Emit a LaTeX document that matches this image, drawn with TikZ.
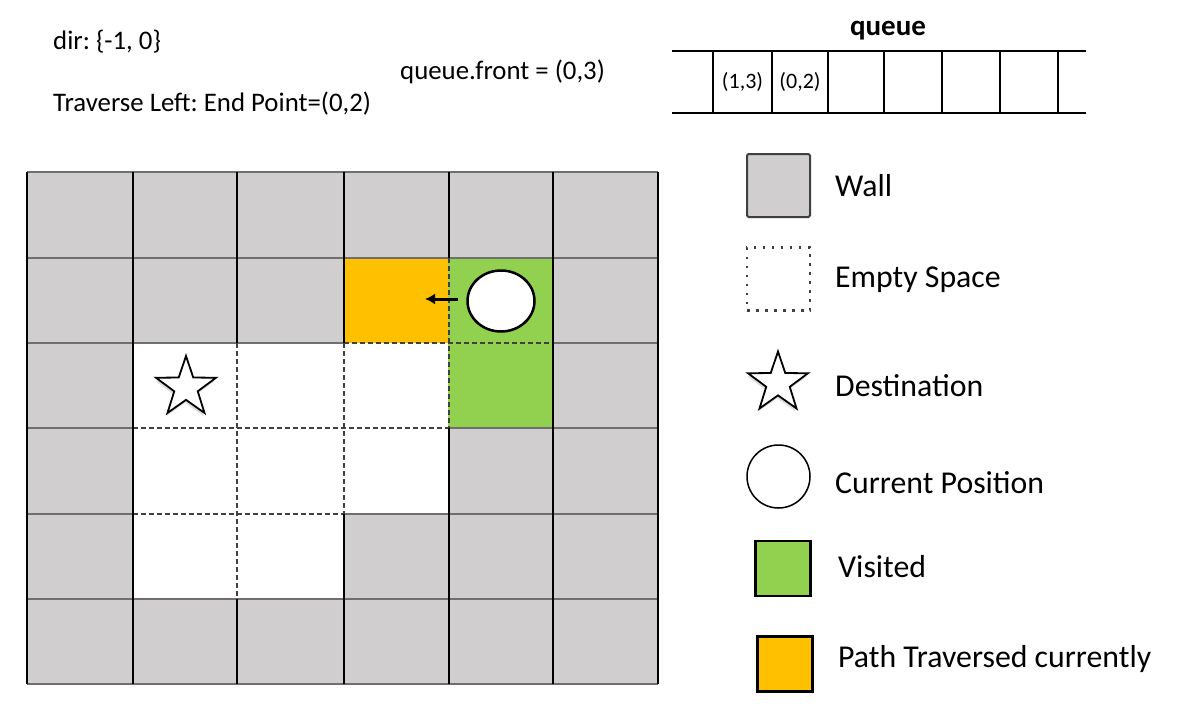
\documentclass[tikz,border=0pt]{standalone}
\usepackage{fontspec}
\setmainfont{Carlito}
\frenchspacing
\usetikzlibrary{shapes.geometric,arrows.meta}
\definecolor{wallgray}{HTML}{D0CECE}
\definecolor{visgreen}{HTML}{92D050}
\definecolor{pathorange}{HTML}{FFC000}
\definecolor{hline}{HTML}{6F6F6F}
\definecolor{dline}{HTML}{404040}
\begin{document}
\begin{tikzpicture}[x=1pt,y=-1pt,
  toptext/.style={font=\fontsize{26.8}{31}\selectfont, anchor=west, inner sep=0pt},
  legtext/.style={font=\fontsize{31.8}{37}\selectfont, anchor=west, inner sep=0pt},
  qtext/.style={font=\fontsize{22}{26}\selectfont, inner sep=0pt},
  vline/.style={black, line width=1.3pt},
  hlinestyle/.style={hline, line width=2pt},
  innerline/.style={dline, line width=1.4pt, dash pattern=on 5pt off 3pt},
  qline/.style={black, line width=2pt},
  starshape/.style={star, star points=5, star point ratio=2.55, draw=black, line width=1.8pt, fill=white, inner sep=0pt, minimum size=63pt},
  starshadow/.style={star, star points=5, star point ratio=2.55, fill=black!25, inner sep=0pt, minimum size=63pt, opacity=0.5},
  legbox/.style={draw=black, line width=2.5pt, inner sep=0pt, minimum width=55pt, minimum height=55pt}
]
\useasboundingbox (0,0) rectangle (1200,704);
\fill[white] (0,0) rectangle (1200,704);

% ---- top texts ----
\node[toptext] (dir) at (53,42) {dir: \{-1, 0\}};
\node[toptext] (front) at (400,72) {queue.front = (0,3)};
\node[toptext] (trav) at (53,104) {Traverse Left: End Point=(0,2)};

% ---- queue ----
\node[font=\fontsize{29}{34}\selectfont\bfseries, inner sep=0pt] (qtitle) at (888,31) {queue};
\draw[qline] (672,51) -- (1086,51);
\draw[qline] (672,113) -- (1086,113);
\foreach \x in {713,772,828,884,942,1000,1058} {
  \draw[qline] (\x,51) -- (\x,113);
}
\node[qtext] (q1) at (742.5,82) {(1,3)};
\node[qtext] (q2) at (800,82) {(0,2)};

% ---- grid fills ----
\foreach \r in {0,...,5} {
  \foreach \c in {0,...,5} {
    \fill[wallgray] ({27+105.17*\c},{172+85.33*\r}) rectangle ++(105.17,85.33);
  }
}
\foreach \c/\r in {1/2,2/2,3/2,1/3,2/3,3/3,1/4,2/4} {
  \fill[white] ({27+105.17*\c},{172+85.33*\r}) rectangle ++(105.17,85.33);
}
\fill[pathorange] ({27+105.17*3},{172+85.33*1}) rectangle ++(105.17,85.33);
\fill[visgreen] ({27+105.17*4},{172+85.33*1}) rectangle ++(105.17,85.33);
\fill[visgreen] ({27+105.17*4},{172+85.33*2}) rectangle ++(105.17,85.33);

% ---- horizontal lines ----
\draw[hlinestyle] (27,172) -- (658,172);
\draw[hlinestyle] (27,258) -- (658,258);
\draw[hlinestyle] (27,343) -- (344,343);
\draw[hlinestyle] (553,343) -- (658,343);
\draw[hlinestyle] (27,428) -- (133,428);
\draw[hlinestyle] (449,428) -- (658,428);
\draw[hlinestyle] (27,514) -- (133,514);
\draw[hlinestyle] (344,514) -- (658,514);
\draw[hlinestyle] (27,599) -- (658,599);
\draw[hlinestyle] (27,684) -- (658,684);
% dashed horizontals
\draw[innerline] (344,343) -- (553,343);
\draw[innerline] (133,428) -- (449,428);
\draw[innerline] (133,514) -- (344,514);

% ---- vertical lines ----
\draw[vline] (27,172) -- (27,684);
\draw[vline] (133,172) -- (133,684);
\draw[vline] (237,172) -- (237,343);
\draw[vline] (237,599) -- (237,684);
\draw[vline] (344,172) -- (344,343);
\draw[vline] (344,514) -- (344,684);
\draw[vline] (449,172) -- (449,258);
\draw[vline] (449,428) -- (449,684);
\draw[vline] (553,172) -- (553,684);
\draw[vline] (658,172) -- (658,684);
% dashed verticals
\draw[innerline] (237,343) -- (237,599);
\draw[innerline] (344,343) -- (344,514);
\draw[innerline] (449,258) -- (449,428);

% ---- grid symbols ----
\node[starshadow] (dshadow) at (185,390.5) {};
\node[starshape] (dest) at (186,387.5) {};
\node[ellipse, draw=black, line width=2.5pt, fill=white, inner sep=0pt, minimum width=67pt, minimum height=61pt] (cur) at (501,301) {};
\coordinate (arrStart) at (458,299);
\coordinate (arrEnd) at (425,299);
\draw[line width=3pt, -{Latex[length=10pt,width=11pt]}] (arrStart) -- (arrEnd);

% ---- legend ----
\node[draw=dline, line width=2pt, rounded corners=1.5pt, fill=wallgray, inner sep=0pt, minimum width=63pt, minimum height=63pt] (lwall) at (778.5,185.5) {};
\node[legtext] (twall) at (835,186) {Wall};
\node[draw=dline, line width=2.5pt, dash pattern=on 2.5pt off 6.5pt, inner sep=0pt, minimum width=63pt, minimum height=63pt] (lempty) at (778.5,279) {};
\node[legtext] (tempty) at (835,280) {Empty Space};
\node[starshadow] (lshadow) at (777,386) {};
\node[starshape] (ldest) at (778,383) {};
\node[legtext] (tdest) at (835,386) {Destination};
\node[circle, draw=black, line width=1.5pt, fill=white, inner sep=0pt, minimum size=63pt] (lcur) at (778.5,476.5) {};
\node[legtext] (tcur) at (835,483) {Current Position};
\node[legbox, fill=visgreen] (lvis) at (783,568.5) {};
\node[legtext] (tvis) at (838,567) {Visited};
\node[legbox, fill=pathorange] (lpath) at (785,664) {};
\node[legtext] (tpath) at (838,659) {Path Traversed currently};
\end{tikzpicture}
\end{document}
